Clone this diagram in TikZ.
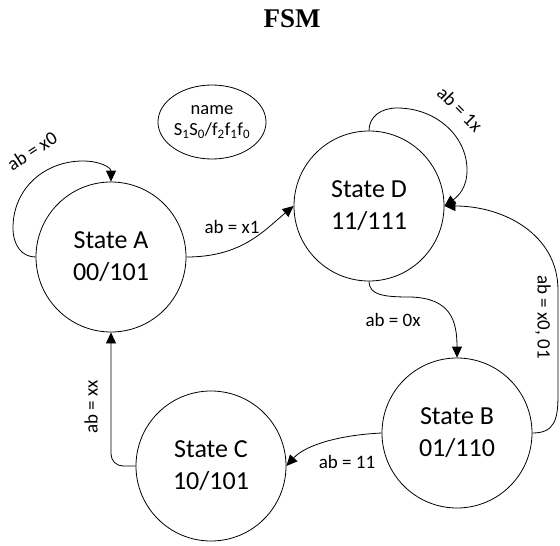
\documentclass[tikz,border=0pt]{standalone}
\usepackage{fontspec}
\setmainfont{Carlito}
\newfontfamily\titlefont{Liberation Serif}
\usetikzlibrary{arrows.meta,shapes.geometric}

\tikzset{
  state/.style={circle, draw, line width=0.8pt, minimum size=150pt, inner sep=0pt,
                font=\fontsize{26}{32}\selectfont, align=center},
  legendbox/.style={ellipse, draw, line width=0.8pt, minimum width=90pt, minimum height=74pt,
                inner sep=0pt, font=\fontsize{18.5}{23}\selectfont, align=center},
  edge/.style={line width=0.8pt, -{Triangle[length=11pt,width=10pt]}},
  lbl/.style={font=\fontsize{19}{23}\selectfont, inner sep=0pt}
}

\begin{document}
\begin{tikzpicture}[x=1pt, y=-1pt]
  \useasboundingbox (0,0) rectangle (560,546);

  % title
  \node[font=\titlefont\bfseries\fontsize{27}{30}\selectfont] (title) at (292,19) {FSM};

  % legend
  \node[legendbox] (key) at (212,122) {name\\[-2pt]S\textsubscript{1}S\textsubscript{0}/f\textsubscript{2}f\textsubscript{1}f\textsubscript{0}};

  % states
  \node[state] (A) at (111,257) {State A\\00/101};
  \node[state] (D) at (369,206) {State D\\11/111};
  \node[state] (B) at (457,433) {State B\\01/110};
  \node[state] (C) at (211,466) {State C\\10/101};

  \coordinate (aleft) at (13,228);
  \coordinate (atop) at (83,161);
  \coordinate (dtop) at (397,108);
  \coordinate (dright) at (467,170);
  \coordinate (bd1) at (558,395);
  \coordinate (bd2) at (558,290);
  \coordinate (db) at (410,297);

  % A self loop
  \draw[edge] (A.west) .. controls +(-14,0) and +(0,17) .. (aleft)
              .. controls +(0,-40) and +(-38,0) .. (atop)
              .. controls +(17,0) and +(0,-14) .. (A.north);
  \node[lbl, rotate=33] (lA) at (32,151) {ab = x0};

  % A -> D
  \draw[edge] (A.east) .. controls +(55,0) and +(-30,25) .. (D.west);
  \node[lbl] (lAD) at (232,227) {ab = x1};

  % D self loop
  \draw[edge] (D.north) .. controls +(0,-14) and +(-16,0) .. (dtop)
              .. controls +(39,0) and +(0,-34) .. (dright)
              .. controls +(0,18) and +(14,-10) .. (D.east);
  \node[lbl, rotate=-45] (lD) at (460,109) {ab = 1x};

  % B -> D
  \draw[edge] (B.east) .. controls +(22,0) and +(0,25) .. (bd1)
              -- (bd2)
              .. controls +(0,-55) and +(60,0) .. (D.east);
  \node[lbl, rotate=-90] (lBD) at (543,317) {ab = x0, 01};

  % D -> B
  \draw[edge] (D.south) .. controls +(0,14) and +(-25,0) .. (db)
              .. controls +(40,1) and +(0,-38) .. (B.north);
  \node[lbl] (lDB) at (393,320) {ab = 0x};

  % B -> C
  \draw[edge] (B.west) .. controls +(-42,2) and +(19,-21) .. (C.east);
  \node[lbl] (lBC) at (347,462) {ab = 11};

  % C -> A
  \draw[edge, rounded corners=12pt] (C.west) -| (A.south);
  \node[lbl, rotate=90] (lCA) at (91,407) {ab = xx};
\end{tikzpicture}
\end{document}
